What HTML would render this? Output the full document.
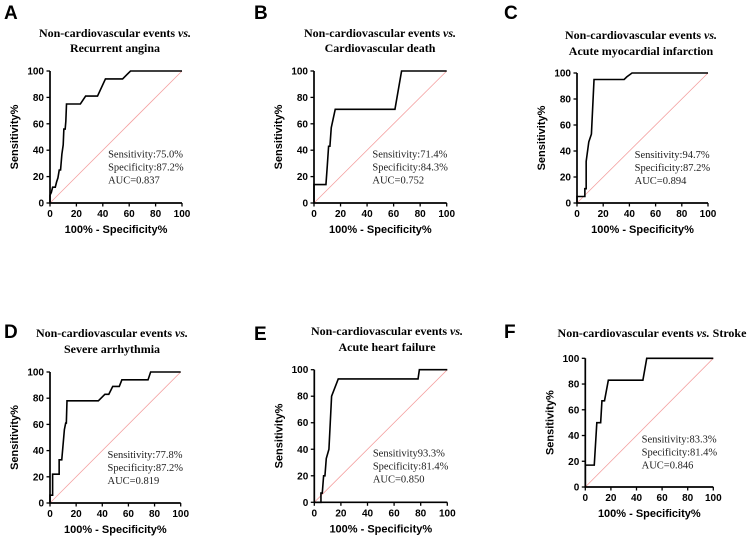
<!DOCTYPE html>
<html><head><meta charset="utf-8"><style>
html,body{margin:0;padding:0;background:#fff;}
svg{display:block;}
.ttl{font-family:"Liberation Serif",serif;font-weight:bold;font-size:12px;fill:#000;}
.lbl{font-family:"Liberation Sans",sans-serif;font-weight:bold;font-size:19px;fill:#000;}
.tk{font-family:"Liberation Sans",sans-serif;font-weight:bold;font-size:10px;fill:#000;}
.ax{font-family:"Liberation Sans",sans-serif;font-weight:bold;font-size:11px;fill:#000;}
.ann{font-family:"Liberation Serif",serif;font-size:10.5px;fill:#222;}
</style></head><body>
<svg id="fig" width="755" height="538" viewBox="0 0 755 538"></svg>
<script>
const ticks=[0,20,40,60,80,100];
const panelLetters=["A","B","C","D","E","F"];
const panelTitles=[["Non-cardiovascular events vs.","Recurrent angina"],["Non-cardiovascular events vs.","Cardiovascular death"],["Non-cardiovascular events vs.","Acute myocardial infarction"],["Non-cardiovascular events vs.","Severe arrhythmia"],["Non-cardiovascular events vs.","Acute heart failure"],["Non-cardiovascular events vs. Stroke"]];
const panelStats=[["Sensitivity:75.0%","Specificity:87.2%","AUC=0.837"],["Sensitivity:71.4%","Specificity:84.3%","AUC=0.752"],["Sensitivity:94.7%","Specificity:87.2%","AUC=0.894"],["Sensitivity:77.8%","Specificity:87.2%","AUC=0.819"],["Sensitivity93.3%","Specificity:81.4%","AUC=0.850"],["Sensitivity:83.3%","Specificity:81.4%","AUC=0.846"]];
const rocA_x=[0,0,1,2,4,5,6,7,8,9,10,10.5,11.5,12,12.5,23,27,36,42,55,61,100];
const rocA_y=[0,6,8,12,12,16,19,25,25,37,44,56,56,62,75,75,81,81,94,94,100,100];
const rocB_x=[0,0,9,10,11,12,13,16,61,66,100];
const rocB_y=[0,14,14,28,43,43,57,71,71,100,100];
const rocC_x=[0,0,6,6,7,7,9,11,13,36,38,42,100];
const rocC_y=[0,5,5,11,11,32,47,53,95,95,97,100,100];
const rocD_x=[0,0,2,2,7,7,9,11,12,12.5,13,37,42,45,48,53,55,75,77,100];
const rocD_y=[0,6,6,22,22,33,33,56,61,61,78,78,83,83,89,89,94,94,100,100];
const rocE_x=[0,5,5,6,7,8,9,11,12,13,18,78,79,100];
const rocE_y=[0,0,7,7,20,20,33,40,60,80,93,93,100,100];
const rocF_x=[0,0,7,9,12,13,15,18,45,48,100];
const rocF_y=[0,17,17,50,50,67,67,83,83,100,100];
const seriesX=[rocA_x,rocB_x,rocC_x,rocD_x,rocE_x,rocF_x];
const seriesY=[rocA_y,rocB_y,rocC_y,rocD_y,rocE_y,rocF_y];
const boxes=[[50,182,71,203],[314,446.7,71,203],[577,708,73,203],[50,180.7,372,503],[314.3,447.3,369.7,502.3],[585.3,713.3,358.3,487]];
const letterPos=[[4,19],[254,19],[504,19],[4,338],[254,340],[504,338]];
const titleCx=[115,380,641,112,387,652];
const titleY=[[37,52],[37,52],[39,55],[337,353],[335,351],[337,0]];
const NS="http://www.w3.org/2000/svg";
const svg=document.getElementById("fig");
function mk(t,a,p){const e=document.createElementNS(NS,t);for(const k in a)e.setAttribute(k,a[k]);(p||svg).appendChild(e);return e;}
for(let i=0;i<6;i++){
  const [x0,x1,yt,yb]=boxes[i];
  const sx=v=>x0+(x1-x0)*v/100, sy=v=>yb-(yb-yt)*v/100;
  const g=mk("g",{});
  
  
  const L=mk("text",{x:letterPos[i][0],y:letterPos[i][1],class:"lbl"},g);L.textContent=panelLetters[i];
  
  
  panelTitles[i].forEach((s,j)=>{
    const t=mk("text",{x:titleCx[i],y:titleY[i][j],class:"ttl","text-anchor":"middle"},g);
    
    
    const k=s.indexOf(" vs.");
    if(k>=0){t.appendChild(document.createTextNode(s.slice(0,k+1)));const it=mk("tspan",{"font-style":"italic"},t);it.textContent="vs.";t.appendChild(document.createTextNode(s.slice(k+4)));}
    else t.textContent=s;
  });
  const d=mk("line",{x1:sx(0),y1:sy(0),x2:sx(100),y2:sy(100),stroke:"#f4a0a0","stroke-width":0.8},g);
  
  
  const pts=seriesX[i].map((v,j)=>sx(v).toFixed(2)+","+sy(seriesY[i][j]).toFixed(2)).join(" ");
  const c=mk("polyline",{points:pts,fill:"none",stroke:"#000","stroke-width":1.6,"stroke-linejoin":"miter"},g);
  
  
  const ax=mk("path",{d:`M${x0},${yt}V${yb}H${x1}`,fill:"none",stroke:"#000","stroke-width":1.7},g);
  
  
  ticks.forEach(v=>{
    mk("line",{x1:sx(v),y1:yb,x2:sx(v),y2:yb+3.5,stroke:"#000","stroke-width":1.3},g);
    mk("line",{x1:x0-3.5,y1:sy(v),x2:x0,y2:sy(v),stroke:"#000","stroke-width":1.3},g);
    const tx=mk("text",{x:sx(v),y:yb+14,class:"tk","text-anchor":"middle"},g);tx.textContent=v;
    
    
    const ty=mk("text",{x:x0-6,y:sy(v)+3.5,class:"tk","text-anchor":"end"},g);ty.textContent=v;
    
    
  });
  const xl=mk("text",{x:(x0+x1)/2,y:yb+30,class:"ax","text-anchor":"middle"},g);xl.textContent="100% - Specificity%";
  
  
  const ym=(yt+yb)/2, yx=x0-32;
  const yl=mk("text",{x:yx,y:ym,class:"ax","text-anchor":"middle",transform:`rotate(-90 ${yx} ${ym})`},g);yl.textContent="Sensitivity%";
  
  
  panelStats[i].forEach((s,j)=>{
    const a=mk("text",{x:sx(44),y:sy(34.5)+j*13,class:"ann"},g);a.textContent=s;
    
    
  });
}
</script>
</body></html>
